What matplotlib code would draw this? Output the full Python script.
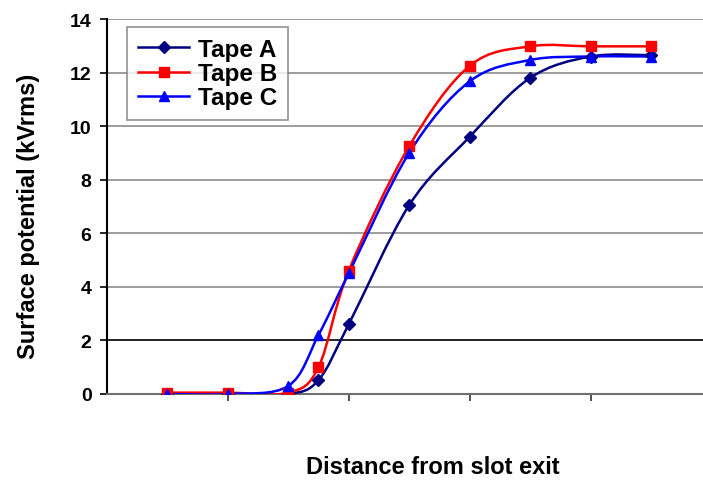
import numpy as np
import matplotlib
matplotlib.use('Agg')
import matplotlib.pyplot as plt
from matplotlib.path import Path
from matplotlib.patches import PathPatch

plt.rcParams['font.family'] = ['Liberation Sans', 'DejaVu Sans']
plt.rcParams['font.weight'] = 'bold'

# Data (x is in tick units; the axis has no labels)
distance = [0.5, 1.0, 1.5, 1.75, 2.0, 2.5, 3.0, 3.5, 4.0, 4.5]
tape_a = [0.0, 0.0, 0.0, 0.52, 2.6, 7.05, 9.6, 11.8, 12.6, 12.65]
tape_b = [0.05, 0.05, 0.05, 1.0, 4.6, 9.25, 12.25, 12.98, 12.98, 12.98]
tape_c = [0.0, 0.0, 0.3, 2.2, 4.5, 9.0, 11.67, 12.47, 12.6, 12.6]

series_names = ['Tape A', 'Tape B', 'Tape C']
colors = ['#000080', '#FF0000', '#0000FF']
markers = ['D', 's', '^']
marker_sizes = [6, 7, 7.5]


def smooth_path(xs, ys, t=1.0 / 6):
    # Excel-like smoothed line: cubic Bezier segments through every point
    pts = np.column_stack([xs, ys])
    ext = np.vstack([pts[0], pts, pts[-1]])
    verts = [pts[0]]
    codes = [Path.MOVETO]
    for i in range(len(pts) - 1):
        p0, p1, p2, p3 = ext[i], ext[i + 1], ext[i + 2], ext[i + 3]
        c1 = p1 + (p2 - p0) * t
        c2 = p2 - (p3 - p1) * t
        verts += [c1, c2, p2]
        codes += [Path.CURVE4] * 3
    return Path(verts, codes)


fig = plt.figure(figsize=(7.03, 4.81), dpi=100)
ax = fig.add_axes([0.152, 0.1788, 0.848, 0.7796])

ax.set_xlim(0, 4.93)
ax.set_ylim(0, 14)

# Gridlines
for yv in np.arange(2, 15, 2):
    ax.axhline(yv, color='black' if yv == 2 else '#8c8c8c', lw=1.2, zorder=1)

handles = []
for name, ys, c, m, ms in zip(series_names, [tape_a, tape_b, tape_c], colors, markers, marker_sizes):
    ax.add_patch(PathPatch(smooth_path(distance, ys), fill=False, edgecolor=c, lw=1.8, zorder=3))
    ax.plot(distance, ys, linestyle='none', marker=m, color=c, markersize=ms, zorder=4)
    lh, = ax.plot([], [], color=c, marker=m, markersize=ms, lw=1.8, label=name)
    handles.append(lh)

ax.spines['top'].set_visible(False)
ax.spines['right'].set_visible(False)
ax.spines['left'].set_color('black')
ax.spines['left'].set_linewidth(1.5)
ax.spines['bottom'].set_color('#707070')
ax.spines['bottom'].set_linewidth(1.5)

ax.set_xticks([1, 2, 3, 4])
ax.set_xticklabels([])
ax.tick_params(axis='x', direction='out', length=5, width=1.2, color='#333333')
ax.set_yticks(np.arange(0, 15, 2))
ax.tick_params(axis='y', direction='out', length=5, width=1.2, labelsize=14, pad=6)
for lbl in ax.get_yticklabels():
    lbl.set_fontweight('bold')

fig.text(0.04, 0.55, 'Surface potential (kVrms)', fontsize=17, fontweight='bold',
         rotation=90, ha='center', va='center')
fig.text(0.616, 0.004, 'Distance from slot exit', fontsize=17, fontweight='bold', ha='center', va='bottom')

leg = ax.legend(handles=handles, loc='upper left', bbox_to_anchor=(0.034, 0.979),
                borderaxespad=0, fontsize=17.5, frameon=True, fancybox=False, edgecolor='#777777',
                handlelength=2.1, handletextpad=0.35, borderpad=0.45, labelspacing=0.05)
leg.get_frame().set_linewidth(1.2)
leg.set_zorder(5)
for txt in leg.get_texts():
    txt.set_fontweight('bold')

fig.savefig('out.png', dpi=100)
